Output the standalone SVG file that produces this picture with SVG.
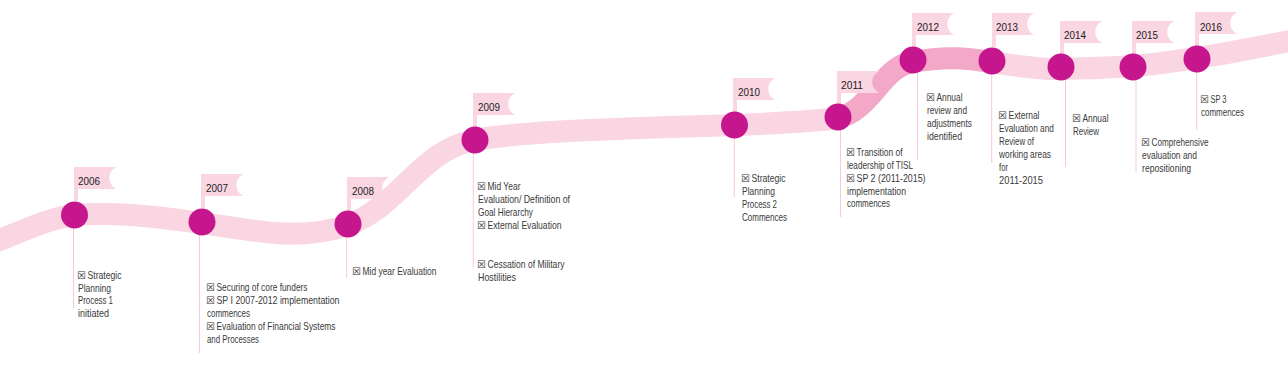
<svg xmlns="http://www.w3.org/2000/svg" width="1288" height="366" viewBox="0 0 1288 366">
<style>
.band{fill:none;stroke:#fad5e2;stroke-width:22;stroke-linecap:butt}
.bandd{fill:none;stroke:#f4a8c8;stroke-width:22;stroke-linecap:butt}
.vl{stroke:#f7c9da;stroke-width:1;fill:none}
.dot{fill:#c6168d}
.flag{fill:#fad5e2}
.yr{font-family:"Liberation Sans",sans-serif;font-size:11px;fill:#222}
.t{font-family:"Liberation Sans",sans-serif;font-size:10.5px;fill:#3a3a3a}
.bx{font-family:"DejaVu Sans",sans-serif;font-size:10px;fill:#333;font-weight:bold}
</style>
<defs>
<path id="fl" d="M0,0 H42 C33,5 33,17 42,22 H0 Z M0,0 H4 V34 H0 Z"/>
</defs>
<g id="connectors">
<line class="vl" x1="73.5" y1="215" x2="73.5" y2="308"/>
<line class="vl" x1="199.5" y1="222" x2="199.5" y2="353"/>
<line class="vl" x1="346.7" y1="225" x2="346.7" y2="278"/>
<line class="vl" x1="473.3" y1="140" x2="473.3" y2="267"/>
<line class="vl" x1="734.3" y1="125" x2="734.3" y2="197"/>
<line class="vl" x1="840.5" y1="118" x2="840.5" y2="217"/>
<line class="vl" x1="917.5" y1="60" x2="917.5" y2="160"/>
<line class="vl" x1="991.7" y1="61" x2="991.7" y2="163"/>
<line class="vl" x1="1065.5" y1="67" x2="1065.5" y2="167"/>
<line class="vl" x1="1136" y1="67" x2="1136" y2="172"/>
<line class="vl" x1="1196.7" y1="59" x2="1196.7" y2="130"/>
<path class="band" d="M-10,244 C20,232 50,218 74,215 C120,211 170,219 202,223 C250,230 300,242 348,225 C400,206 420,150 475,140 C530,130 650,128 734,125 C780,123 810,122 840,118"/>
<path class="band" d="M990,62 C1020,66 1040,70 1061,69 C1090,68 1110,68 1133,66 C1160,64 1180,60 1197,58 C1230,53 1260,47 1300,39"/>
<path class="bandd" d="M838,118 C872,110 882,66 913,62 C945,56 965,58 992,62"/>
</g>
<g id="n2006">
<use class="flag" href="#fl" x="74" y="167"/>
<circle class="dot" cx="74.5" cy="215" r="13.5"/>
<text class="yr" x="78" y="185" textLength="22" lengthAdjust="spacingAndGlyphs">2006</text>
<text class="bx" x="77" y="279">☒</text><text class="t" x="87.5" y="279" textLength="34" lengthAdjust="spacingAndGlyphs">Strategic</text>
<text class="t" x="78" y="291.5" textLength="33" lengthAdjust="spacingAndGlyphs">Planning</text>
<text class="t" x="78" y="304" textLength="35" lengthAdjust="spacingAndGlyphs">Process 1</text>
<text class="t" x="78" y="317" textLength="31" lengthAdjust="spacingAndGlyphs">initiated</text>
</g>
<g id="n2007">
<use class="flag" href="#fl" x="201" y="174"/>
<circle class="dot" cx="202" cy="222" r="13.5"/>
<text class="yr" x="206" y="192" textLength="22" lengthAdjust="spacingAndGlyphs">2007</text>
<text class="bx" x="206" y="291">☒</text><text class="t" x="216.5" y="291" textLength="91" lengthAdjust="spacingAndGlyphs">Securing of core funders</text>
<text class="bx" x="206" y="304">☒</text><text class="t" x="216.5" y="304" textLength="123" lengthAdjust="spacingAndGlyphs">SP I 2007-2012 implementation</text>
<text class="t" x="207" y="317" textLength="43" lengthAdjust="spacingAndGlyphs">commences</text>
<text class="bx" x="206" y="330">☒</text><text class="t" x="216.5" y="330" textLength="119" lengthAdjust="spacingAndGlyphs">Evaluation of Financial Systems</text>
<text class="t" x="207" y="343" textLength="52" lengthAdjust="spacingAndGlyphs">and Processes</text>
</g>
<g id="n2008">
<use class="flag" href="#fl" x="347" y="177"/>
<circle class="dot" cx="348" cy="224" r="13.5"/>
<text class="yr" x="352" y="195" textLength="22" lengthAdjust="spacingAndGlyphs">2008</text>
<text class="bx" x="352" y="275">☒</text><text class="t" x="362.5" y="275" textLength="74" lengthAdjust="spacingAndGlyphs">Mid year Evaluation</text>
</g>
<g id="n2009">
<use class="flag" href="#fl" x="473" y="93"/>
<circle class="dot" cx="475" cy="140" r="13.5"/>
<text class="yr" x="478" y="111" textLength="22" lengthAdjust="spacingAndGlyphs">2009</text>
<text class="bx" x="477" y="190">☒</text><text class="t" x="487.5" y="190" textLength="33" lengthAdjust="spacingAndGlyphs">Mid Year</text>
<text class="t" x="478" y="203" textLength="92" lengthAdjust="spacingAndGlyphs">Evaluation/ Definition of</text>
<text class="t" x="478" y="216" textLength="55" lengthAdjust="spacingAndGlyphs">Goal Hierarchy</text>
<text class="bx" x="477" y="229">☒</text><text class="t" x="487.5" y="229" textLength="74" lengthAdjust="spacingAndGlyphs">External Evaluation</text>
<text class="bx" x="477" y="268">☒</text><text class="t" x="487.5" y="268" textLength="77" lengthAdjust="spacingAndGlyphs">Cessation of Military</text>
<text class="t" x="478" y="281" textLength="38" lengthAdjust="spacingAndGlyphs">Hostilities</text>
</g>
<g id="n2010">
<use class="flag" href="#fl" x="733" y="78"/>
<circle class="dot" cx="734.5" cy="125" r="13.5"/>
<text class="yr" x="738" y="96" textLength="22" lengthAdjust="spacingAndGlyphs">2010</text>
<text class="bx" x="741" y="182">☒</text><text class="t" x="751.5" y="182" textLength="34" lengthAdjust="spacingAndGlyphs">Strategic</text>
<text class="t" x="742" y="195" textLength="33" lengthAdjust="spacingAndGlyphs">Planning</text>
<text class="t" x="742" y="208" textLength="35" lengthAdjust="spacingAndGlyphs">Process 2</text>
<text class="t" x="742" y="221" textLength="45" lengthAdjust="spacingAndGlyphs">Commences</text>
</g>
<g id="n2011">
<use class="flag" href="#fl" x="837" y="71"/>
<circle class="dot" cx="838" cy="117" r="13.5"/>
<text class="yr" x="841" y="89" textLength="22" lengthAdjust="spacingAndGlyphs">2011</text>
<text class="bx" x="846" y="156">☒</text><text class="t" x="856.5" y="156" textLength="46" lengthAdjust="spacingAndGlyphs">Transition of</text>
<text class="t" x="847" y="169" textLength="66" lengthAdjust="spacingAndGlyphs">leadership of TISL</text>
<text class="bx" x="846" y="182">☒</text><text class="t" x="856.5" y="182" textLength="69" lengthAdjust="spacingAndGlyphs">SP 2 (2011-2015)</text>
<text class="t" x="847" y="195" textLength="59" lengthAdjust="spacingAndGlyphs">implementation</text>
<text class="t" x="847" y="207" textLength="43" lengthAdjust="spacingAndGlyphs">commences</text>
</g>
<g id="n2012">
<use class="flag" href="#fl" x="912" y="13"/>
<circle class="dot" cx="913" cy="60" r="13.5"/>
<text class="yr" x="917" y="31" textLength="22" lengthAdjust="spacingAndGlyphs">2012</text>
<text class="bx" x="926" y="101">☒</text><text class="t" x="936.5" y="101" textLength="26" lengthAdjust="spacingAndGlyphs">Annual</text>
<text class="t" x="927" y="114" textLength="40" lengthAdjust="spacingAndGlyphs">review and</text>
<text class="t" x="927" y="127" textLength="45" lengthAdjust="spacingAndGlyphs">adjustments</text>
<text class="t" x="927" y="140" textLength="35" lengthAdjust="spacingAndGlyphs">identified</text>
</g>
<g id="n2013">
<use class="flag" href="#fl" x="992" y="13"/>
<circle class="dot" cx="992" cy="61" r="13.5"/>
<text class="yr" x="996" y="31" textLength="22" lengthAdjust="spacingAndGlyphs">2013</text>
<text class="bx" x="998" y="119">☒</text><text class="t" x="1008.5" y="119" textLength="31" lengthAdjust="spacingAndGlyphs">External</text>
<text class="t" x="999" y="132" textLength="55" lengthAdjust="spacingAndGlyphs">Evaluation and</text>
<text class="t" x="999" y="144.5" textLength="35" lengthAdjust="spacingAndGlyphs">Review of</text>
<text class="t" x="999" y="158" textLength="52" lengthAdjust="spacingAndGlyphs">working areas</text>
<text class="t" x="999" y="171" textLength="9" lengthAdjust="spacingAndGlyphs">for</text>
<text class="t" x="999" y="184" textLength="44" lengthAdjust="spacingAndGlyphs">2011-2015</text>
</g>
<g id="n2014">
<use class="flag" href="#fl" x="1060" y="21"/>
<circle class="dot" cx="1061" cy="67" r="13.5"/>
<text class="yr" x="1064" y="39" textLength="22" lengthAdjust="spacingAndGlyphs">2014</text>
<text class="bx" x="1072" y="122">☒</text><text class="t" x="1082.5" y="122" textLength="26" lengthAdjust="spacingAndGlyphs">Annual</text>
<text class="t" x="1073" y="135" textLength="26" lengthAdjust="spacingAndGlyphs">Review</text>
</g>
<g id="n2015">
<use class="flag" href="#fl" x="1132" y="21"/>
<circle class="dot" cx="1133" cy="67" r="13.5"/>
<text class="yr" x="1136" y="39" textLength="22" lengthAdjust="spacingAndGlyphs">2015</text>
<text class="bx" x="1141" y="146">☒</text><text class="t" x="1151.5" y="146" textLength="57" lengthAdjust="spacingAndGlyphs">Comprehensive</text>
<text class="t" x="1142" y="159" textLength="55" lengthAdjust="spacingAndGlyphs">evaluation and</text>
<text class="t" x="1142" y="172" textLength="49" lengthAdjust="spacingAndGlyphs">repositioning</text>
</g>
<g id="n2016">
<use class="flag" href="#fl" x="1195" y="12"/>
<circle class="dot" cx="1197" cy="59" r="13.5"/>
<text class="yr" x="1200" y="31" textLength="22" lengthAdjust="spacingAndGlyphs">2016</text>
<text class="bx" x="1200" y="103">☒</text><text class="t" x="1210.5" y="103" textLength="16" lengthAdjust="spacingAndGlyphs">SP 3</text>
<text class="t" x="1201" y="116" textLength="43" lengthAdjust="spacingAndGlyphs">commences</text>
</g>
</svg>
